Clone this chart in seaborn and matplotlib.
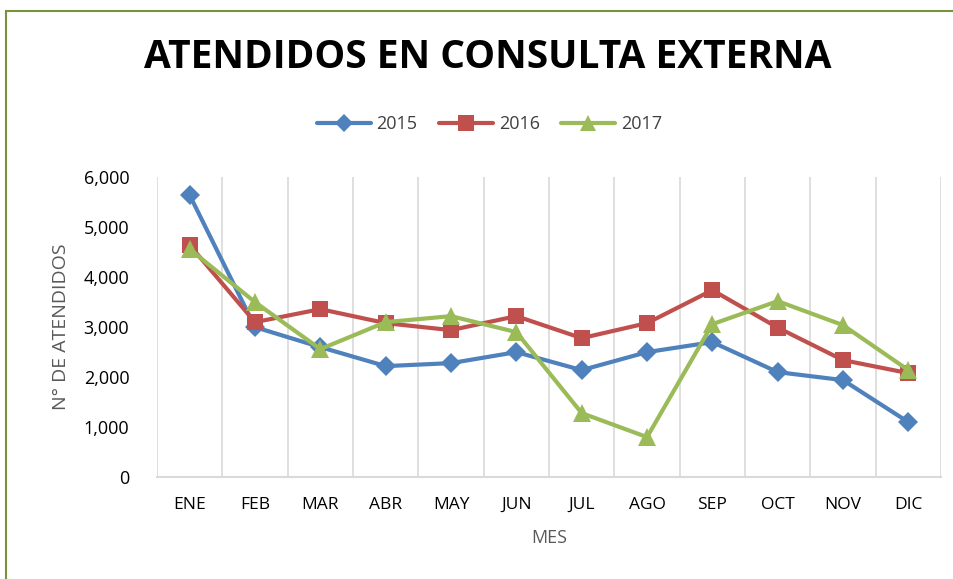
import matplotlib
matplotlib.use("Agg")
import matplotlib.pyplot as plt
import seaborn as sns
import pandas as pd
from matplotlib.lines import Line2D
from matplotlib.ticker import FuncFormatter

meses = ["ENE", "FEB", "MAR", "ABR", "MAY", "JUN", "JUL", "AGO", "SEP", "OCT", "NOV", "DIC"]
v2015 = [5640, 3000, 2600, 2220, 2280, 2500, 2140, 2500, 2700, 2100, 1940, 1100]
v2016 = [4640, 3100, 3360, 3080, 2940, 3220, 2780, 3080, 3740, 2990, 2340, 2080]
v2017 = [4560, 3500, 2560, 3100, 3220, 2900, 1280, 800, 3060, 3520, 3040, 2140]
years = ["2015", "2016", "2017"]
yticks = [0, 1000, 2000, 3000, 4000, 5000, 6000]

colors = {"2015": "#4F81BD", "2016": "#C0504D", "2017": "#9BBB59"}
markers = {"2015": "D", "2016": "s", "2017": "^"}
msizes = {"2015": 10, "2016": 12, "2017": 13}

rows = []
for y, vals in zip(years, [v2015, v2016, v2017]):
    for m, v in zip(meses, vals):
        rows.append({"mes": m, "valor": v, "anio": y})
df = pd.DataFrame(rows)

sns.set_style("white")
plt.rcParams['font.family'] = ['Open Sans', 'DejaVu Sans']

fig = plt.figure(figsize=(9.54, 5.79), dpi=100)
ax = fig.add_axes([0.1646, 0.176, 0.8218, 0.518])

for y in years:
    sub = df[df["anio"] == y]
    sns.lineplot(data=sub, x="mes", y="valor", ax=ax, color=colors[y],
                 marker=markers[y], markersize=msizes[y], linewidth=3,
                 markeredgewidth=0, legend=False, sort=False)

ax.set_xlim(-0.5, 11.5)
ax.set_ylim(0, 6000)
ax.set_yticks(yticks)
ax.yaxis.set_major_formatter(FuncFormatter(lambda v, p: f"{int(v):,}"))
ax.set_xticks(range(12))
ax.set_xticklabels(meses)
for i in range(13):
    ax.axvline(i - 0.5, color="#D9D9D9", linewidth=1.2, zorder=0)
for s in ["top", "right", "left"]:
    ax.spines[s].set_visible(False)
ax.spines["bottom"].set_color("#D9D9D9")
ax.spines["bottom"].set_linewidth(1.5)
ax.tick_params(axis="both", length=0, labelsize=13, colors="black")
ax.tick_params(axis="x", pad=14)
ax.tick_params(axis="y", pad=20)
for lab in ax.get_xticklabels():
    lab.set_fontsize(12.5)
ax.set_xlabel("MES", fontsize=13, color="#595959", labelpad=12)
ax.set_ylabel("N° DE ATENDIDOS", fontsize=14, color="#595959", labelpad=10)

fig.text(0.511, 0.90, "ATENDIDOS EN CONSULTA EXTERNA", ha="center", va="center",
         fontsize=28, fontweight="bold", color="black")

handles = [Line2D([0], [0], color=colors[y], marker=markers[y], markersize=msizes[y] - 1,
                  linewidth=3, markeredgewidth=0) for y in years]
fig.legend(handles, years, loc="center", bbox_to_anchor=(0.513, 0.785), ncol=3,
           frameon=False, fontsize=13, handlelength=3, columnspacing=1.2,
           handletextpad=0.3, labelcolor="#404040")

# border lines (left and top)
fig.add_artist(Line2D([0.006, 0.006], [0, 0.981], color="#77933C", linewidth=1.5,
                      transform=fig.transFigure))
fig.add_artist(Line2D([0.006, 1.0], [0.981, 0.981], color="#77933C", linewidth=1.5,
                      transform=fig.transFigure))

fig.savefig("out.png", dpi=100)
